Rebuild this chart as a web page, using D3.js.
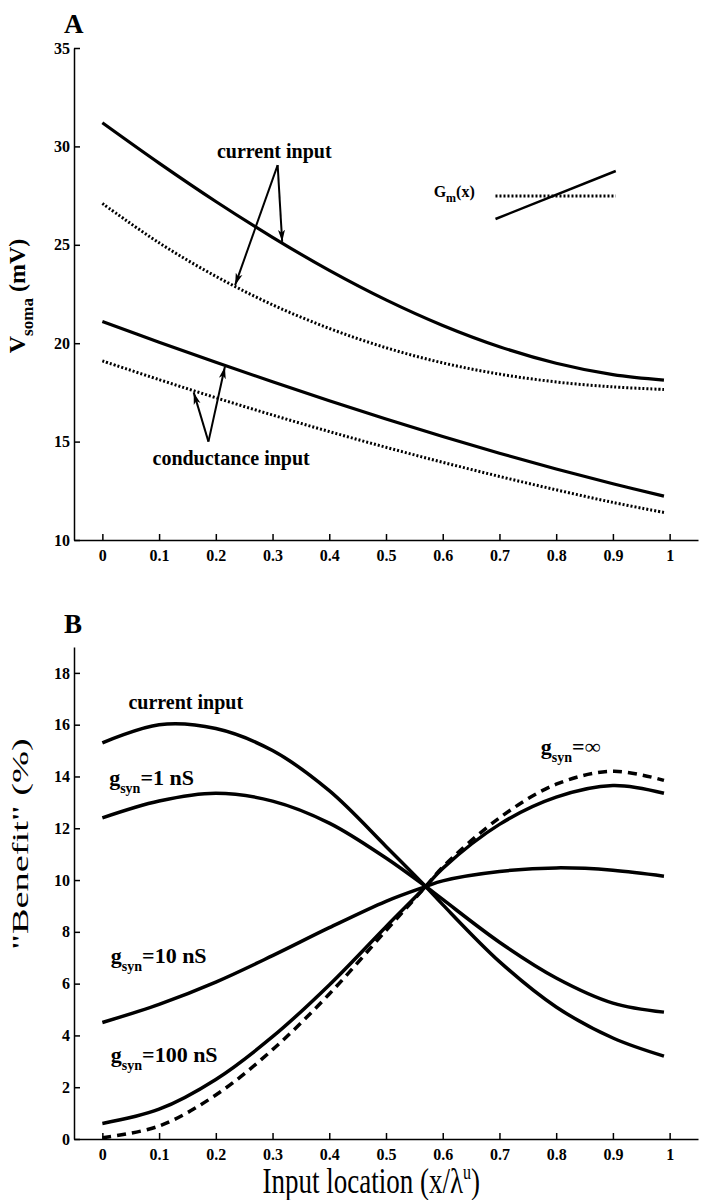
<!DOCTYPE html>
<html lang="en">
	<head>
		<meta charset="utf-8">
		<title>Somatic voltage and benefit vs input location</title>
		<script type="text/javascript" src="https://cdn.jsdelivr.net/npm/d3@7"></script>
		<style type="text/css">
			body { margin: 0; background: #fff; }
			svg { display: block; }
			text { font-family: "Liberation Serif", "Times New Roman", serif; fill: #000; }
			.axis path, .axis line { stroke: #000; stroke-width: 1.5; }
			.axis text { font-size: 16px; font-weight: bold; font-family: "Liberation Serif", serif; }
		</style>
	</head>
	<body>
		<script type="text/javascript">

			// x positions (input location) of the sampled points
			var xA = [0, 0.1, 0.2, 0.3, 0.4, 0.5, 0.6, 0.7, 0.8, 0.9, 0.99];
			var xB = [0, 0.1, 0.2, 0.3, 0.4, 0.5, 0.57, 0.6, 0.7, 0.8, 0.9, 0.99];
			var xTicks = [0, 0.1, 0.2, 0.3, 0.4, 0.5, 0.6, 0.7, 0.8, 0.9, 1];

			// panel A: V soma (mV)
			var aCurrentSolid  = [31.2, 29.15, 27.2, 25.38, 23.7, 22.2, 20.9, 19.82, 18.98, 18.4, 18.12];
			var aCurrentDotted = [27.1, 25.1, 23.4, 21.95, 20.75, 19.77, 19.0, 18.43, 18.03, 17.78, 17.65];
			var aCondSolid     = [21.1, 20.05, 19.03, 18.04, 17.08, 16.15, 15.26, 14.41, 13.61, 12.86, 12.23];
			var aCondDotted    = [19.1, 18.15, 17.23, 16.35, 15.51, 14.71, 13.95, 13.23, 12.55, 11.91, 11.4];
			var yTicksA = [10, 15, 20, 25, 30, 35];

			// panel B: "Benefit" (%)
			var bCurrent = [15.3, 16.0, 15.85, 15.0, 13.45, 11.3, 9.75, 9.05, 6.85, 5.1, 3.9, 3.2];
			var bG1      = [12.4, 13.05, 13.35, 13.05, 12.2, 10.85, 9.75, 9.25, 7.6, 6.22, 5.25, 4.9];
			var bG10     = [4.5, 5.2, 6.06, 7.08, 8.16, 9.18, 9.75, 9.97, 10.33, 10.47, 10.38, 10.15];
			var bG100    = [0.6, 1.15, 2.3, 3.95, 5.95, 8.2, 9.75, 10.45, 12.15, 13.2, 13.65, 13.35];
			var bGinf    = [0.05, 0.5, 1.7, 3.45, 5.6, 8.05, 9.75, 10.5, 12.4, 13.7, 14.2, 13.85];
			var yTicksB = [0, 2, 4, 6, 8, 10, 12, 14, 16, 18];

			var w = 704, h = 1200;

			var svg = d3.select("body")
						.append("svg")
						.attr("width", w)
						.attr("height", h);

			svg.append("rect").attr("width", w).attr("height", h).attr("fill", "#fff");

			var defs = svg.append("defs");
			defs.append("marker")
				.attr("id", "arrow")
				.attr("viewBox", "0 -4 12 8")
				.attr("refX", 12)
				.attr("refY", 0)
				.attr("markerUnits", "userSpaceOnUse")
				.attr("markerWidth", 12)
				.attr("markerHeight", 8)
				.attr("orient", "auto")
				.append("path")
				.attr("d", "M0,-3.5L12,0L0,3.5L3,0Z")
				.attr("fill", "#000");

			var xScale = d3.scaleLinear().domain([-0.05, 1.05]).range([74, 698]);
			var yScaleA = d3.scaleLinear().domain([10, 35]).range([540, 48]);
			var yScaleB = d3.scaleLinear().domain([0, 19]).range([1139, 647]);

			var fmt = function(d) { return String(d); };

			function drawAxes(yScale, yTicks) {
				svg.append("g")
				   .attr("class", "axis")
				   .attr("transform", "translate(0," + yScale.range()[0] + ")")
				   .call(d3.axisBottom(xScale).tickValues(xTicks).tickFormat(fmt)
						.tickSizeInner(-6).tickSizeOuter(0).tickPadding(10));
				svg.append("g")
				   .attr("class", "axis")
				   .attr("transform", "translate(" + xScale.range()[0] + ",0)")
				   .call(d3.axisLeft(yScale).tickValues(yTicks)
						.tickSizeInner(-6).tickSizeOuter(0).tickPadding(4));
			}

			drawAxes(yScaleA, yTicksA);
			drawAxes(yScaleB, yTicksB);

			function drawCurve(xs, ys, yScale, dash, width) {
				var line = d3.line()
					.x(function(d) { return xScale(d[0]); })
					.y(function(d) { return yScale(d[1]); })
					.curve(d3.curveCatmullRom.alpha(0.5));
				svg.append("path")
				   .datum(d3.zip(xs, ys))
				   .attr("d", line)
				   .attr("fill", "none")
				   .attr("stroke", "#000")
				   .attr("stroke-width", width)
				   .attr("stroke-dasharray", dash);
			}

			// panel A curves
			drawCurve(xA, aCurrentSolid, yScaleA, null, 3.2);
			drawCurve(xA, aCurrentDotted, yScaleA, "2,2", 3);
			drawCurve(xA, aCondSolid, yScaleA, null, 3.2);
			drawCurve(xA, aCondDotted, yScaleA, "2,2", 3);

			// panel B curves
			drawCurve(xB, bCurrent, yScaleB, null, 3.5);
			drawCurve(xB, bG1, yScaleB, null, 3.5);
			drawCurve(xB, bG10, yScaleB, null, 3.5);
			drawCurve(xB, bG100, yScaleB, null, 3.5);
			drawCurve(xB, bGinf, yScaleB, "9,6", 3.5);

			// arrows in panel A (data coordinates)
			function arrow(from, to, yScale) {
				svg.append("line")
				   .attr("x1", xScale(from[0])).attr("y1", yScale(from[1]))
				   .attr("x2", xScale(to[0])).attr("y2", yScale(to[1]))
				   .attr("stroke", "#000")
				   .attr("stroke-width", 2)
				   .attr("marker-end", "url(#arrow)");
			}
			arrow([0.309, 29.05], [0.317, 25.15], yScaleA);
			arrow([0.309, 29.05], [0.234, 22.95], yScaleA);
			arrow([0.187, 15.0], [0.161, 17.5], yScaleA);
			arrow([0.187, 15.0], [0.216, 18.8], yScaleA);

			function label(x, y, str, size, anchor) {
				return svg.append("text")
					.attr("x", x).attr("y", y)
					.attr("font-size", size + "px")
					.attr("font-weight", "bold")
					.attr("text-anchor", anchor || "start")
					.text(str);
			}

			label(xScale(0.303), yScaleA(29.41), "current input", 20, "middle");
			label(xScale(0.227), yScaleA(13.81), "conductance input", 20, "middle");

			// G_m(x) inset
			var gm = label(xScale(0.584), yScaleA(27.43), "G", 16);
			gm.append("tspan").attr("font-size", "12px").attr("dy", 5).text("m");
			gm.append("tspan").attr("dy", -5).text("(x)");
			drawCurve([0.693, 0.905], [27.48, 27.48], yScaleA, "2,2", 3);
			drawCurve([0.693, 0.905], [26.31, 28.75], yScaleA, null, 2.5);

			// panel B labels
			label(xScale(0.046), yScaleB(16.6), "current input", 20);
			function gLabel(x, y, rest) {
				var t = label(xScale(x), yScaleB(y), "g", 22);
				t.append("tspan").attr("font-size", "14px").attr("dy", 8).text("syn");
				t.append("tspan").attr("dy", -8).text(rest);
			}
			gLabel(0.012, 13.67, "=1 nS");
			gLabel(0.015, 6.8, "=10 nS");
			gLabel(0.015, 2.97, "=100 nS");
			gLabel(0.773, 14.85, "=\u221E");

			// panel letters
			label(64, 33, "A", 27);
			label(64, 633, "B", 27);

			// y-axis titles
			var ya = svg.append("text")
				.attr("transform", "translate(25," + 296 + ") rotate(-90)")
				.attr("text-anchor", "middle")
				.attr("font-size", "24px")
				.attr("font-weight", "bold");
			ya.append("tspan").text("V");
			ya.append("tspan").attr("font-size", "17px").attr("dy", 8).text("soma");
			ya.append("tspan").attr("dy", -8).text(" (mV)");

			svg.append("text")
				.attr("transform", "translate(28," + 844 + ") rotate(-90) scale(1.6,1)")
				.attr("text-anchor", "middle")
				.attr("font-size", "24px")
				.text("\"Benefit\" (%)");

			// x-axis title
			var xt = svg.append("text")
				.attr("transform", "translate(" + xScale(0.474) + ",1193) scale(1,1.3)")
				.attr("text-anchor", "middle")
				.attr("font-size", "27px")
				.text("Input location (x/\u03BB");
			xt.append("tspan").attr("font-size", "16px").attr("dy", -11).text("u");
			xt.append("tspan").attr("dy", 11).text(")");

		</script>
	</body>
</html>
